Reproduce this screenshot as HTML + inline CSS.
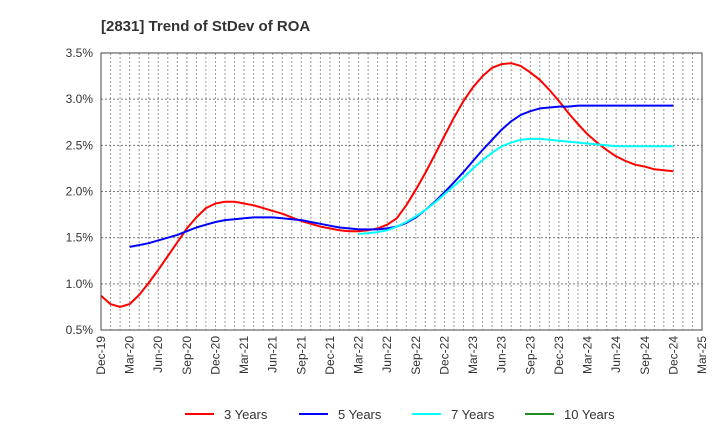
<!DOCTYPE html>
<html><head><meta charset="utf-8"><style>
body{margin:0;background:#fff;font-family:"Liberation Sans",sans-serif;}
svg text{font-family:"Liberation Sans",sans-serif;}
</style></head><body>
<svg id="chart" width="720" height="440" xmlns="http://www.w3.org/2000/svg">
<text x="101" y="31" font-size="15" font-weight="bold" fill="#333">[2831]  Trend of StDev of ROA</text>
<g id="grid"></g>
<g id="yaxis"></g>
<g id="xaxis"></g>
<g id="series"></g>
<rect x="101" y="53" width="601" height="277" fill="none" stroke="#444" stroke-width="1"/>
<g id="legend"></g>
</svg>
<script>
const xLabels=["Dec-19","Mar-20","Jun-20","Sep-20","Dec-20","Mar-21","Jun-21","Sep-21","Dec-21","Mar-22","Jun-22","Sep-22","Dec-22","Mar-23","Jun-23","Sep-23","Dec-23","Mar-24","Jun-24","Sep-24","Dec-24","Mar-25"];
const yTicks=[0.5,1.0,1.5,2.0,2.5,3.0,3.5];
const seriesNames=["3 Years","5 Years","7 Years","10 Years"];
const seriesColors=["#ff0000","#0000ff","#00ffff","#228b22"];
// monthly values starting Dec-19 (index 0); null = no data
const s3=[0.87,0.78,0.75,0.78,0.88,1.01,1.15,1.30,1.45,1.60,1.72,1.82,1.87,1.89,1.89,1.87,1.85,1.82,1.79,1.76,1.72,1.68,1.65,1.62,1.60,1.58,1.57,1.57,1.58,1.60,1.64,1.71,1.85,2.02,2.20,2.40,2.60,2.80,2.98,3.13,3.25,3.34,3.38,3.39,3.36,3.29,3.21,3.10,2.98,2.85,2.73,2.62,2.53,2.45,2.38,2.33,2.29,2.27,2.24,2.23,2.22];
const s5=[null,null,null,1.40,1.42,1.44,1.47,1.50,1.53,1.57,1.61,1.64,1.67,1.69,1.70,1.71,1.72,1.72,1.72,1.71,1.70,1.69,1.67,1.65,1.63,1.61,1.60,1.59,1.59,1.59,1.60,1.62,1.66,1.72,1.80,1.89,1.99,2.10,2.21,2.33,2.45,2.56,2.67,2.76,2.83,2.87,2.90,2.91,2.92,2.92,2.93,2.93,2.93,2.93,2.93,2.93,2.93,2.93,2.93,2.93,2.93];
const s7=[null,null,null,null,null,null,null,null,null,null,null,null,null,null,null,null,null,null,null,null,null,null,null,null,null,null,null,1.54,1.55,1.56,1.58,1.62,1.67,1.73,1.80,1.88,1.97,2.06,2.15,2.25,2.34,2.42,2.49,2.53,2.56,2.57,2.57,2.56,2.55,2.54,2.53,2.52,2.51,2.50,2.49,2.49,2.49,2.49,2.49,2.49,2.49];
const s10=[];
const NS="http://www.w3.org/2000/svg";
const L=101,R=702,T=53,B=330,yMin=0.5,yMax=3.5,nMonths=63;
function xs(i){return L+(R-L)*i/nMonths;}
function ys(v){return B-(B-T)*(v-yMin)/(yMax-yMin);}
function mk(tag,attrs,parent){const e=document.createElementNS(NS,tag);for(const k in attrs)e.setAttribute(k,attrs[k]);parent.appendChild(e);return e;}
const grid=document.getElementById('grid'),ya=document.getElementById('yaxis'),xa=document.getElementById('xaxis'),sg=document.getElementById('series'),lg=document.getElementById('legend');
for(let m=1;m<nMonths;m++){const l=mk('line',{x1:xs(m),x2:xs(m),y1:T,y2:B,stroke:'#999','stroke-dasharray':'2,2','stroke-width':1},grid);

}
yTicks.forEach(v=>{if(v>yMin&&v<yMax){const l=mk('line',{x1:L,x2:R,y1:ys(v),y2:ys(v),stroke:'#777','stroke-dasharray':'2,2','stroke-width':1},grid);

}
const t=mk('text',{x:93,y:ys(v)+4,'text-anchor':'end','font-size':12,fill:'#333'},ya);t.textContent=v.toFixed(1)+'%';

});
xLabels.forEach((s,i)=>{const x=xs(i*3);const t=mk('text',{x:0,y:0,'text-anchor':'end','font-size':12,fill:'#333',transform:`translate(${x+4},${B+6}) rotate(-90)`},xa);t.textContent=s;

});
[s3,s5,s7,s10].forEach((arr,k)=>{let d='';arr.forEach((v,i)=>{if(v==null)return;d+=(d?'L':'M')+xs(i).toFixed(1)+','+ys(v).toFixed(1);});
if(d){const p=mk('path',{d:d,fill:'none',stroke:seriesColors[k],'stroke-width':2,'stroke-linejoin':'round'},sg);

}});
const lx=[185,299,412,525];
seriesNames.forEach((n,k)=>{const g=mk('g',{},lg);


mk('line',{x1:lx[k],x2:lx[k]+29,y1:414,y2:414,stroke:seriesColors[k],'stroke-width':2},g);
const t=mk('text',{x:lx[k]+39,y:419,'font-size':13,fill:'#333'},g);t.textContent=n;});
</script>
</body></html>
